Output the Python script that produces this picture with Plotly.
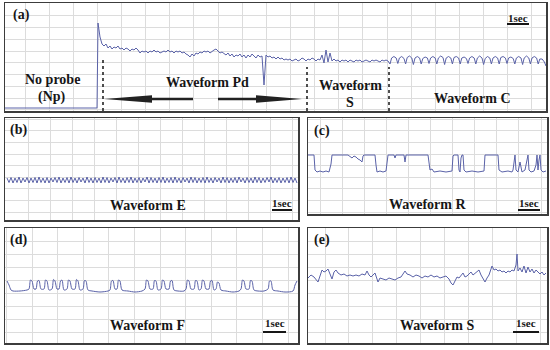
import plotly.graph_objects as go

W, H = 550, 350
TRACE = "#5a62a8"
INK = "#161616"
FRAME = "#3c3c3c"
GRID = "#dcdcdc"
SERIF = "Liberation Serif, 'Times New Roman', serif"

# ---------------- data (time in chart units, amplitude in arbitrary units) -------------
# (a) No probe -> Pd -> S -> C
a_np_time = [5, 97]
a_np_amp = [3, 3]
a_pd_start, a_pd_step = 98, 2
a_pd_amp = [
    88, 74, 67, 65, 67, 63, 65, 62, 64, 63,
    65, 62, 63, 61, 63, 62, 60, 62, 61, 63,
    61, 58, 60, 59, 60, 58, 60, 59, 61, 59,
    60, 58, 59, 60, 59, 61, 59, 60, 58, 60,
    59, 60, 58, 59, 57, 56, 54, 57, 55, 58,
    57, 59, 58, 60, 59, 60, 58, 60, 61, 62,
    60, 58, 59, 57, 56, 58, 55, 57, 54, 56,
    55, 57, 54, 56, 53, 56, 54, 57, 55, 53,
    56, 54, 55, 26, 56, 54, 55, 53, 54, 52,
    54, 52, 53, 51, 52, 51, 52, 50, 51, 52,
    50, 51, 53, 52, 50, 52, 51, 53, 52, 50,
    52, 51, 56, 48, 61, 49, 58, 50, 52, 50,
    51, 49, 51, 50, 51, 49, 51, 50, 49, 51,
    50, 51, 49, 50, 51, 50, 49, 51, 50, 51,
    50, 49, 51, 50, 51, 50,
]
a_c_time = [
    390.0, 391.6, 393.9, 396.2, 397.8, 399.4, 401.7, 404.0, 405.6, 407.2,
    409.5, 411.8, 413.4, 415.0, 417.3, 419.6, 421.2, 422.8, 425.1, 427.4,
    429.0, 430.6, 432.9, 435.2, 436.8, 438.4, 440.7, 443.0, 444.6, 446.2,
    448.5, 450.8, 452.4, 454.0, 456.3, 458.6, 460.2, 461.8, 464.1, 466.4,
    468.0, 469.6, 471.9, 474.2, 475.8, 477.4, 479.7, 482.0, 483.6, 485.2,
    487.5, 489.8, 491.4, 493.0, 495.3, 497.6, 499.2, 500.8, 503.1, 505.4,
    507.0, 508.6, 510.9, 513.2, 514.8, 516.4, 518.7, 521.0, 522.6, 524.2,
    526.5, 528.8, 530.4, 532.0, 534.3, 536.6, 538.2, 539.8, 542.1, 544.4,
    546.0,
]
a_c_amp = [
    47, 53, 54.5, 53, 47.5, 53, 54.5, 52.5, 47, 53.5,
    55, 53, 46.5, 53, 54.5, 53, 47, 52.5, 54, 53,
    47.5, 53, 54.5, 53, 47, 53, 55, 53.5, 46.5, 53,
    54.5, 53, 47, 53.5, 54.5, 53, 47, 53, 54, 52.5,
    47.5, 53, 54.5, 53, 47, 53, 55, 53, 46.5, 52.5,
    54.5, 53, 47, 53, 54.5, 53, 47, 53.5, 54.5, 53,
    47.5, 53, 54, 52.5, 47, 53, 54.5, 53, 46.5, 53,
    55, 53, 47, 53, 54.5, 53, 47, 52, 52, 49,
    45,
]

# (b) Waveform E
e_start, e_step = 7, 2
e_amp = [
    42, 37.5, 42.5, 37, 42, 37.5, 43, 37, 42, 38, 42.5, 37, 42, 37.5, 42.5, 37, 43, 37.5, 42, 37,
    42.5, 37, 42, 38, 42.5, 37.5, 43, 37, 42, 37.5, 42.5, 37, 43, 37.5, 42, 37, 42.5, 38, 42, 37,
    43, 37.5, 42, 37, 42.5, 37.5, 42, 37, 43, 37.5, 42.5, 37, 42, 38, 42.5, 37, 43, 37.5, 42, 37,
    42.5, 37.5, 43, 37, 42, 37.5, 42.5, 37, 42, 38, 43, 37, 42.5, 37.5, 42, 37, 42.5, 37.5, 43, 37,
    42, 37.5, 42.5, 37, 43, 37.5, 42, 37, 42.5, 38, 42, 37, 43, 37.5, 42.5, 37, 42, 37.5, 42.5, 37,
    43, 37.5, 42, 37, 42.5, 38, 42, 37, 43, 37.5, 42.5, 37, 42, 37.5, 42.5, 37, 43, 38, 42, 37,
    42.5, 37.5, 42, 37, 43, 37.5, 42.5, 37, 42, 37.5, 42.5, 38, 43, 37, 42, 37.5, 42.5, 37, 42, 37.5,
    42.5, 37, 43, 37.5, 42, 37,
]

# (c) Waveform R
r_time = [
    308, 314, 315, 317, 320, 323, 326, 329, 331, 332,
    348, 350, 352, 354, 356, 358, 360, 362, 363, 364,
    375, 376, 377, 380, 383, 386, 387, 388,
    394, 395, 396, 404, 405, 406, 428, 429, 430, 432, 434, 440, 446, 452, 453, 454,
    458, 459, 460, 461, 462, 463, 464, 466, 472, 478, 484, 485,
    498, 499, 502, 508, 512, 513, 514, 515, 516, 518, 520, 521, 522, 525, 527, 528,
    529, 531, 534, 536, 537, 538, 539, 540, 541, 543, 546,
]
r_amp = [
    59, 59, 44, 42, 43, 42, 43, 42, 50, 59,
    59, 57, 56, 58, 57, 55, 54, 52, 58, 59,
    59, 49, 42, 43, 42, 43, 54, 59,
    59, 56, 59, 59, 52, 59, 59, 51, 44, 45, 42, 43, 42, 43, 58, 59,
    59, 44, 42, 56, 59, 59, 44, 42, 43, 42, 43, 59,
    59, 44, 42, 43, 42, 44, 51, 59, 44, 42, 52, 46, 42, 44, 54, 59,
    44, 42, 43, 49, 59, 44, 54, 59, 44, 42, 43,
]

# (d) Waveform F
f_time = [
    7, 9, 11, 13, 20, 27,
    29, 30.5, 32, 34, 36, 37.5, 39, 41, 44, 45.5, 47, 49, 52, 53.5, 55, 57,
    59, 60.5, 62, 64, 67, 68.5, 70, 72, 75, 76.5, 78, 80, 83, 84.5, 86, 88,
    92, 100, 108,
    110, 111.5, 113, 115, 117, 118.5, 120, 122,
    128, 135, 142,
    145, 146.5, 148, 150, 153, 154.5, 156, 158, 161, 162.5, 164, 166, 169, 170.5, 172, 174,
    178, 184,
    186, 187.5, 189, 191, 194, 195.5, 197, 199, 201, 202.5, 204, 206, 209, 210.5, 212, 214,
    216, 217.5, 219, 221,
    226, 233, 239,
    241, 242.5, 244, 246, 249, 250.5, 252, 254,
    258, 264,
    268, 269.5, 271, 273,
    278, 285, 293, 295, 297,
]
f_amp = [
    62, 58, 53, 52, 52, 53,
    54, 63, 62, 54, 54, 62, 62.5, 54, 54, 63, 62, 53, 54, 63.5, 62, 54,
    54, 62, 63, 53, 54, 63, 62, 54, 54, 63.5, 62, 53, 54, 62.5, 62, 53,
    52, 51, 52,
    53, 62, 62.5, 54, 54, 63, 62, 53,
    52, 51, 52,
    54, 63, 62, 54, 54, 62.5, 62, 53, 54, 63, 62, 54, 54, 62, 62.5, 53,
    52, 52,
    54, 63, 62, 54, 54, 62.5, 62, 53, 54, 63, 62, 54, 54, 62, 62.5, 53,
    54, 61, 60, 53,
    52, 51, 52,
    54, 63, 62, 54, 54, 62.5, 62, 53,
    52, 52,
    54, 62, 62, 53,
    52, 51, 52, 58, 62,
]

# (e) Waveform S
s_time = [
    308, 311, 314, 318, 320, 322, 324, 326, 328, 330,
    332, 334, 336, 338, 341, 344, 347, 350, 353, 356,
    359, 362, 365, 367, 369, 371, 373, 375, 377, 378,
    380, 383, 386, 389, 392, 395, 398, 401, 403, 405,
    407, 410, 413, 416, 419, 422, 425, 428, 431, 434,
    437, 440, 443, 446, 449, 451, 453, 455, 457, 459,
    461, 463, 465, 467, 469, 471, 473, 475, 477, 479,
    481, 483, 485, 487, 489, 491, 492, 494, 496, 498,
    500, 502, 504, 506, 508, 510, 512, 514, 516, 517,
    518, 520, 522, 524, 526, 528, 530, 532, 534, 536,
    538, 540, 542, 544, 546,
]
s_amp = [
    65, 68, 66, 61, 67, 73, 71, 72, 74, 68,
    64, 71, 73, 70, 68, 69, 67, 68, 67, 68,
    67, 69, 68, 72, 68, 66, 68, 70, 64, 61,
    65, 64, 63, 65, 64, 63, 65, 66, 69, 72,
    69, 68, 66, 68, 67, 65, 67, 66, 68, 66,
    67, 65, 66, 67, 64, 60, 58, 63, 66, 65,
    68, 70, 66, 67, 69, 71, 68, 70, 72, 73,
    68, 64, 61, 65, 68, 74, 77, 73, 74, 72,
    73, 71, 72, 70, 72, 71, 73, 72, 78, 89,
    72, 75, 71, 77, 70, 76, 71, 74, 70, 73,
    71, 69, 71, 68, 70,
]

# ---------------- layout geometry (pixel boxes of the five panels) ----------------
# name: (left, top, right, bottom, grid x0, grid dx, grid y0, grid dy)
panels = {
    "a": (5, 3, 546, 111, 25, 24.14, 13, 11.75),
    "b": (5, 118, 298, 220, 28, 22, 8, 11.6),
    "c": (308, 118, 547, 214, 320, 22.1, 2, 11.6),
    "d": (5, 228, 298, 343, 32, 25.6, 11, 12.9),
    "e": (308, 228, 547, 343, 325, 23.9, 11, 12.9),
}
axis_ids = {"a": "", "b": "2", "c": "3", "d": "4", "e": "5"}


def px(x):
    return x / W


def py(y):
    return 1 - y / H


fig = go.Figure()
layout_axes = {}
for k, (l, t, r, b, gx0, gdx, gy0, gdy) in panels.items():
    i = axis_ids[k]
    common = dict(showgrid=True, gridcolor=GRID, gridwidth=1, showline=True, mirror=True,
                  linecolor=FRAME, linewidth=1.5, ticks="", showticklabels=False,
                  zeroline=False, fixedrange=True, tickmode="linear")
    layout_axes["xaxis" + i] = dict(domain=[px(l), px(r)], range=[l, r], tick0=gx0, dtick=gdx,
                                    anchor="y" + i, **common)
    layout_axes["yaxis" + i] = dict(domain=[py(b), py(t)], range=[0, b - t], tick0=gy0, dtick=gdy,
                                    anchor="x" + i, **common)


def add(k, t, v, shape="linear"):
    i = axis_ids[k]
    fig.add_trace(go.Scatter(x=t, y=v, mode="lines",
                             line=dict(color=TRACE, width=1, shape=shape, smoothing=0.8),
                             xaxis="x" + i, yaxis="y" + i, hoverinfo="skip", showlegend=False))


a_time = a_np_time + [a_pd_start + a_pd_step * n for n in range(len(a_pd_amp))] + a_c_time
a_amp = a_np_amp + a_pd_amp + a_c_amp
add("a", a_time, a_amp)
add("b", [e_start + e_step * n for n in range(len(e_amp))], e_amp)
add("c", r_time, r_amp)
add("d", f_time, f_amp, shape="spline")
add("e", s_time, s_amp)

# ---------------- labels ----------------
ann = []


def label(text, x, y, size=14):
    ann.append(dict(text="<b>" + text + "</b>", x=px(x), y=py(y), xref="paper", yref="paper",
                    showarrow=False, xanchor="center", yanchor="middle",
                    font=dict(family=SERIF, size=size, color=INK)))


label("(a)", 21, 15)
label("No probe", 52, 80)
label("(Np)", 52, 97)
label("Waveform Pd", 207, 82)
label("Waveform", 350, 85)
label("S", 350, 103)
label("Waveform C", 472, 98)
label("(b)", 18, 130)
label("Waveform E", 148, 205)
label("(c)", 322, 131)
label("Waveform R", 427, 204)
label("(d)", 18, 240)
label("Waveform F", 147, 325)
label("(e)", 322, 240)
label("Waveform S", 437, 325)
for (x, y) in [(518, 18), (282, 203), (529, 203), (275, 323), (526, 323)]:
    label("1sec", x, y, size=11)

shapes = []
# scale bars (1 s) in each panel's data units: (panel, x0, x1, amplitude)
for k, x0, x1, yy in [("a", 507, 529, 87), ("b", 272, 292, 10), ("c", 518, 540, 4),
                      ("d", 263, 286, 11), ("e", 513, 539, 11)]:
    i = axis_ids[k]
    shapes.append(dict(type="line", xref="x" + i, yref="y" + i, x0=x0, x1=x1, y0=yy, y1=yy,
                       line=dict(color=INK, width=2)))
# dotted boundaries between phases in (a)
for x, top in [(103, 53), (307, 44), (389, 44)]:
    shapes.append(dict(type="line", xref="x", yref="y", x0=x, x1=x, y0=0, y1=top,
                       line=dict(color=INK, width=1.5, dash="dot")))
# arrows around "Waveform Pd"
shapes.append(dict(type="path", xref="x", yref="y",
                   path="M104,12 L152,15.8 L152,13.2 L193,13.2 L193,10.8 L152,10.8 L152,8.2 Z",
                   fillcolor="#222", line=dict(width=0)))
shapes.append(dict(type="path", xref="x", yref="y",
                   path="M302,12 L256,15.8 L256,13.2 L218,13.2 L218,10.8 L256,10.8 L256,8.2 Z",
                   fillcolor="#222", line=dict(width=0)))

fig.update_layout(width=W, height=H, autosize=False, margin=dict(l=0, r=0, t=0, b=0),
                  paper_bgcolor="white", plot_bgcolor="white", annotations=ann, shapes=shapes,
                  **layout_axes)
fig.write_html("out.html", config={"displayModeBar": False, "staticPlot": True},
               post_script="document.body.style.margin='0';document.body.style.overflow='hidden';")
